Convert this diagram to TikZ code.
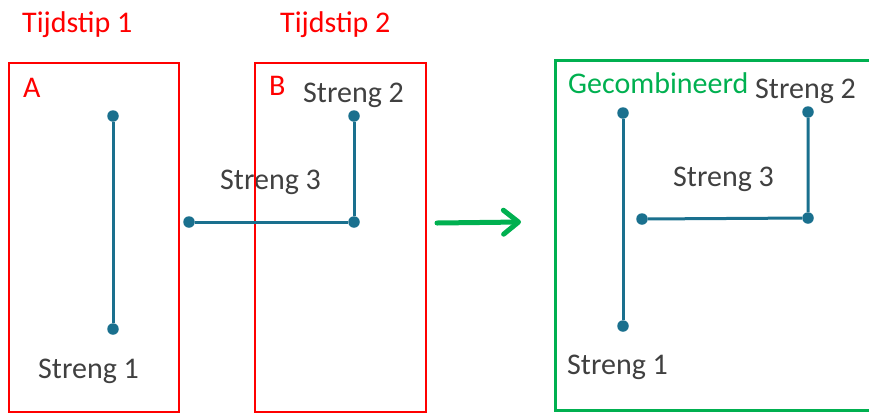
\documentclass[tikz,border=0pt]{standalone}
\usepackage{fontspec}
\setmainfont{Carlito}
\usetikzlibrary{arrows.meta}
\definecolor{strand}{RGB}{26,112,142}
\definecolor{txtgray}{RGB}{64,64,64}
\definecolor{okgreen}{RGB}{0,176,80}
\begin{document}
\begin{tikzpicture}[x=1bp,y=-1bp,
  lbl/.style={inner sep=0pt,anchor=base west,font=\fontsize{30bp}{36bp}\selectfont},
  strandtxt/.style={lbl,text=txtgray},
  redtxt/.style={lbl,text=red},
  greentxt/.style={lbl,text=okgreen},
  frame/.style={draw=red,line width=2.5bp},
  gframe/.style={draw=okgreen,line width=3bp},
  wire/.style={draw=strand,line width=3bp},
  knot/.style={circle,fill=strand,inner sep=0pt,minimum size=11.5bp},
]
\useasboundingbox (0,0) rectangle (869,414);
\clip (0,0) rectangle (869,414);

% labels of the moments
\node[redtxt] (t1) at (22,32) {Tijdstip 1};
\node[redtxt] (t2) at (280,32) {Tijdstip 2};

% strand names (under the frames)
\node[strandtxt] (s1a) at (38,378) {Streng 1};
\node[strandtxt] (s2b) at (303,102) {Streng 2};
\node[strandtxt] (s3b) at (220,189) {Streng 3};

% frames A and B
\draw[frame] (9,63) rectangle (179,412);
\draw[frame] (255,63) rectangle (426,412);
\node[redtxt] (la) at (23,97) {A};
\node[redtxt] (lb) at (269,95) {B};

% strand 1 at moment 1
\node[knot] (a1) at (113,116) {};
\node[knot] (a2) at (113,329) {};
\draw[wire] (a1) -- (a2);

% strands 2 and 3 at moment 2
\node[knot] (b1) at (354,116) {};
\node[knot] (b2) at (354,222) {};
\node[knot] (b3) at (189,222) {};
\draw[wire] (b1) -- (b2) -- (b3);

% arrow to the combined result
\coordinate (arrS) at (437,223);
\coordinate (arrE) at (521,222);
\draw[draw=okgreen,line width=5bp,line cap=round,
  -{Straight Barb[length=15bp,width=24bp,line cap=round,line join=round]}] (arrS) -- (arrE);

% combined frame
\draw[gframe] (555,60) rectangle (880,410);
\node[greentxt] (lg) at (568,93) {Gecombineerd};
\node[strandtxt] (s2g) at (755,98) {Streng 2};
\node[strandtxt] (s3g) at (673,186) {Streng 3};
\node[strandtxt] (s1g) at (567,374) {Streng 1};

\node[knot] (g1) at (623,113) {};
\node[knot] (g2) at (623,326) {};
\draw[wire] (g1) -- (g2);
\node[knot] (g3) at (808,112) {};
\node[knot] (g4) at (808,218) {};
\node[knot] (g5) at (642,219) {};
\draw[wire] (g3) -- (g4) -- (g5);
\end{tikzpicture}
\end{document}
